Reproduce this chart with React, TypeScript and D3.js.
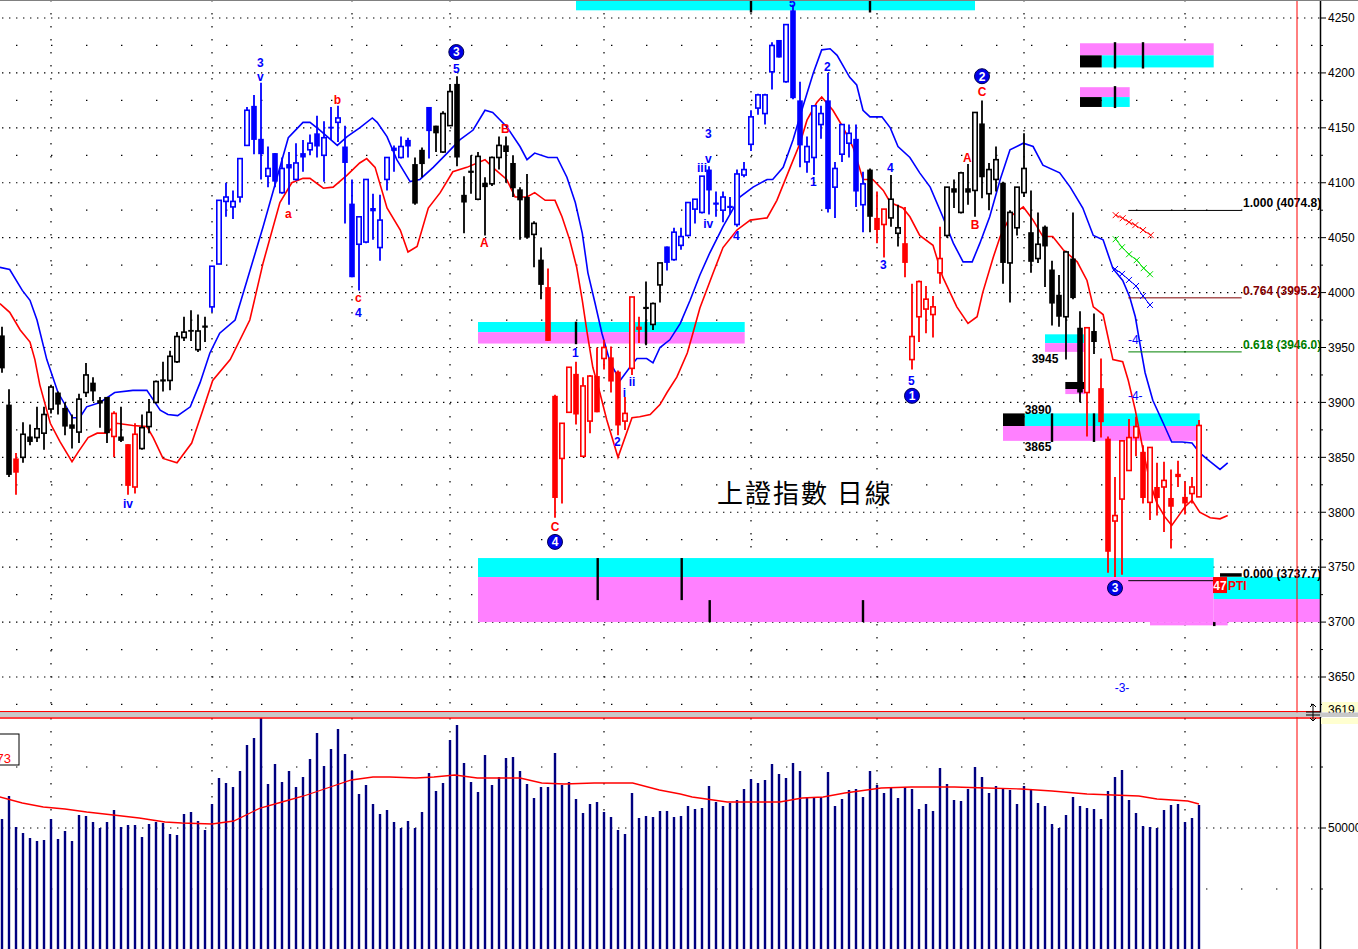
import * as d3 from "d3";

document.body.style.margin = "0";
document.body.style.overflow = "hidden";

// ---- daily bars (index 0 = first visible day) ----
const opens = [3961,3898,3849,3850,3869,3868,3872,3894,3909,3895,
3880,3873,3909,3918,3902,3905,3869,3869,3862,3823,
3858,3878,3900,3921,3920,3937,3959,3966,3948,3970,
3987,4026,4083,4078,4087,4134,4170,4140,4106,4127,
4091,4117,4103,4127,4130,4145,4125,4151,4155,4133,
4081,4044,4046,4077,4041,4103,4132,4123,4139,4117,
4130,4169,4152,4128,4152,4190,4089,4111,4085,4100,
4099,4123,4134,4118,4094,4087,4053,4030,4005,3906,
3849,3891,3926,3851,3883,3924,3940,3941,3928,3883,
3931,3969,3987,3971,4007,4042,4030,4043,4052,4076,
4073,4112,4082,4075,4079,4062,4107,4135,4168,4163,
4201,4230,4192,4257,4175,4119,4123,4153,4175,4096,
4126,4136,4140,4080,4112,4068,4062,4068,4054,4045,
3939,3978,3985,3980,4018,4052,4095,4073,4095,4093,
4154,4090,4103,4100,4027,4059,4091,4055,4031,4060,
4021,3998,3978,4031,3968,3909,3965,3913,3867,3792,
3812,3838,3868,3855,3809,3823,3823,3813,3835,3814,
3817,3814];

const highs = [3969,3912,3854,3882,3880,3896,3896,3916,3910,3900,
3889,3908,3936,3923,3905,3905,3892,3896,3862,3881,
3889,3903,3920,3937,3947,3964,3978,3984,3980,3978,
4024,4084,4100,4093,4122,4169,4180,4191,4133,4127,
4123,4128,4136,4139,4144,4161,4156,4169,4170,4152,
4103,4069,4103,4090,4089,4123,4134,4142,4141,4123,
4132,4169,4152,4165,4190,4197,4106,4125,4128,4105,
4124,4142,4142,4125,4096,4108,4065,4041,4022,3907,
3881,3932,3937,3923,3925,3950,3957,3951,3929,3905,
3996,3978,4010,3991,4027,4042,4059,4059,4082,4085,
4106,4115,4092,4092,4087,4112,4119,4166,4181,4181,
4228,4230,4244,4262,4192,4142,4170,4170,4200,4119,
4153,4153,4153,4110,4113,4092,4076,4107,4080,4078,
4008,4011,4006,3997,4060,4096,4103,4110,4117,4164,
4175,4118,4133,4101,4075,4096,4145,4093,4073,4061,
4029,4016,4038,4073,3983,3968,3981,3940,3869,3832,
3865,3885,3887,3861,3859,3845,3846,3839,3847,3828,
3832,3884];

const lows = [3927,3832,3816,3845,3861,3864,3857,3890,3889,3870,
3858,3863,3905,3901,3877,3863,3850,3864,3816,3817,
3857,3872,3899,3910,3911,3936,3956,3956,3946,3955,
3982,4026,4069,4067,4082,4134,4126,4103,4096,4096,
4090,4080,4102,4110,4125,4123,4101,4139,4137,4063,
4014,4002,4045,4048,4029,4093,4110,4122,4123,4080,
4105,4122,4128,4127,4152,4115,4054,4090,4084,4052,
4097,4112,4100,4087,4048,4049,4023,3994,3956,3795,
3808,3891,3880,3850,3872,3891,3930,3909,3870,3875,
3925,3954,3952,3966,3991,4020,4029,4039,4051,4063,
4072,4071,4069,4064,4071,4060,4105,4129,4162,4153,
4185,4214,4191,4176,4114,4109,4107,4140,4073,4068,
4119,4123,4078,4055,4055,4045,4032,4060,4042,4014,
3930,3955,3963,3959,4008,4050,4077,4072,4080,4069,
4086,4075,4092,4008,3991,4052,4087,4018,4027,4005,
3970,3969,3939,3994,3900,3869,3944,3868,3745,3741,
3743,3838,3851,3808,3793,3797,3782,3767,3823,3798,
3808,3814];

const closes = [3931,3834,3836,3871,3864,3876,3889,3914,3898,3878,
3876,3903,3925,3910,3899,3872,3890,3865,3824,3871,
3877,3891,3919,3919,3942,3960,3964,3965,3965,3968,
4024,4084,4087,4083,4122,4166,4139,4126,4113,4101,
4113,4113,4118,4123,4136,4133,4141,4150,4159,4118,
4014,4069,4103,4074,4066,4123,4129,4133,4133,4081,
4117,4147,4145,4163,4183,4123,4082,4109,4124,4096,
4123,4134,4128,4095,4084,4050,4063,4007,3956,3813,
3881,3932,3889,3915,3924,3891,3950,3919,3879,3890,
3996,3966,3985,3990,4027,4027,4055,4051,4082,4085,
4106,4093,4080,4087,4077,4108,4112,4160,4180,4180,
4225,4214,4244,4177,4134,4133,4170,4163,4076,4113,
4153,4145,4092,4099,4069,4057,4076,4085,4059,4027,
3960,4010,3994,3987,4031,4096,4091,4109,4091,4164,
4105,4112,4121,4027,4073,4096,4113,4028,4044,4042,
3990,3978,4037,3995,3909,3968,3955,3882,3764,3797,
3865,3868,3878,3813,3859,3813,3829,3805,3832,3808,
3823,3879];

// wave marking of each bar: k = plain, b = impulse (blue), r = correction (red)
const waveMark =
  "kkrkkkkkkk" + "kkkkkkrkrr" + "kkkkkkkkkk" + "bbbbbbbbbb" + "bbbbbbbbbb" +
  "bbbbbbbbbk" + "kbkkkkkkkk" + "kkkkkkkkrr" + "rrrrrrrrrr" + "rrkkkbbbbb" +
  "bbbbbbbbbb" + "bbbbbbbbbb" + "bbbbkrrkkr" + "rrrrrkkkkk" + "kkkkkkkkkk" +
  "kkkkkrkrrr" + "rrrrrrrrrr" + "rr";

const volumes = [50900,53200,50100,49500,49000,48700,48800,50900,48900,49700,
48700,51300,51200,50600,50000,50600,51800,50100,50300,50300,
49100,50400,50600,50500,49400,49300,51400,51600,50700,49800,
52400,55000,54500,54100,55700,58300,59000,61000,54400,56400,
54600,55700,54100,55100,56900,59500,56200,57900,59900,57400,
55700,53400,54300,52400,51400,51800,50600,50000,50700,50000,
51600,55500,53700,54500,58800,60300,56500,54600,53600,57300,
54300,55100,57000,57100,55700,54400,53000,54100,54100,57500,
54300,54600,52900,51500,52400,52600,51600,51100,49800,49400,
53500,51000,51200,51100,51700,51700,51100,51200,52200,51900,
52000,54200,52600,52200,52500,52800,53900,54900,54500,54800,
56400,55400,55000,56500,55700,53100,53000,53100,55600,52200,
52900,53800,53900,53100,55700,54300,53500,54100,53000,54100,
53900,51900,52400,51700,56000,54400,52800,52700,53900,56100,
55100,53500,54200,53900,53800,52400,54200,53800,52500,52200,
50400,50000,51300,53100,52200,52000,51900,50900,53700,55100,
55800,52800,51500,50200,50100,50000,51800,52300,52400,50600,
51000,52300];

// [bar, price]
const upperAvg = [[-0.3,4023],[1.1,4021],[2.9,4002],[4,3993],[5,3975],[6.4,3939],[8,3909],[10.1,3886],[11.1,3886],[12.1,3896],[14,3900],[16.1,3909],[18.7,3911],[20.7,3911],[22.6,3893],[23.7,3889],[25.1,3888],[26.9,3896],[28.3,3918],[29.7,3945],[31.1,3963],[33.3,3975],[35,4011],[37.3,4060],[39.3,4105],[40.9,4141],[43,4155],[44,4155],[45.4,4148],[47.9,4134],[49.3,4142],[51.1,4150],[52.9,4159],[53.6,4155],[55,4142],[56.4,4121],[58.3,4101],[59.7,4103],[61.6,4114],[63.6,4127],[65.4,4139],[67.3,4148],[69,4166],[70.1,4164],[72.1,4151],[74,4133],[75,4121],[76.1,4127],[78,4123],[79.3,4123],[80.7,4105],[81.9,4082],[82.9,4054],[83.7,4018],[84.7,3991],[85.7,3963],[86.9,3936],[88.3,3920],[89.7,3932],[90.7,3940],[92.1,3940],[93,3936],[94,3950],[95.4,3957],[96.9,3972],[98.3,3993],[99.7,4016],[101.1,4036],[103,4060],[105.4,4087],[107.3,4096],[109.3,4103],[110.1,4103],[111.6,4114],[113,4139],[114.4,4169],[115.9,4200],[117.1,4221],[118.3,4222],[119.3,4216],[121.1,4196],[122.1,4189],[123,4166],[124,4160],[125.7,4160],[126.9,4150],[128,4133],[129.7,4123],[131.1,4109],[132.6,4096],[134.4,4069],[135.9,4045],[137.3,4028],[138.6,4028],[139.7,4045],[141.1,4069],[142.6,4103],[144,4130],[145.9,4136],[147.3,4133],[148.7,4116],[151.1,4109],[152.6,4096],[154.4,4077],[155.9,4052],[157.3,4048],[158.7,4022],[160.1,4011],[161.1,3996],[161.9,3978],[162.6,3952],[163.3,3927],[164.4,3902],[165.9,3881],[167.1,3864],[168.6,3864],[170,3863],[171.1,3854],[172.6,3846],[174,3839],[175.1,3845]];

const lowerAvg = [[-0.3,3990],[1.1,3982],[2.6,3966],[4,3955],[4.7,3939],[5.4,3916],[6.9,3881],[8.3,3864],[10,3846],[10.9,3855],[12.3,3868],[13.6,3872],[15,3872],[16.4,3881],[18.7,3879],[20.7,3878],[21.6,3868],[23,3849],[25,3845],[27.1,3863],[28.7,3893],[30.1,3920],[32.6,3939],[35.4,3975],[37.3,4027],[39.7,4082],[41.4,4100],[43,4104],[44,4104],[45.9,4095],[47.3,4096],[49.3,4107],[51.1,4118],[52.1,4122],[53.3,4114],[55,4077],[56.9,4057],[58,4037],[59.3,4042],[60.9,4077],[62.6,4091],[64.4,4110],[66.4,4114],[69,4121],[70.1,4114],[72.1,4103],[73.3,4087],[75,4087],[76.1,4091],[77.6,4084],[79,4084],[80,4069],[81.1,4048],[82.1,4023],[82.9,3993],[83.6,3963],[84.4,3932],[85.4,3909],[86.4,3884],[88,3850],[90,3886],[91.1,3887],[92.6,3889],[94,3898],[95,3909],[96.4,3923],[97.9,3945],[98.7,3963],[99.7,3986],[101.6,4018],[103,4041],[105,4057],[106.9,4066],[109.3,4068],[110.7,4084],[112.6,4114],[114,4136],[115,4157],[116.4,4173],[117.1,4178],[118.7,4166],[120.1,4151],[121.6,4132],[123,4103],[124.4,4103],[125.9,4093],[126.9,4082],[128.7,4077],[129.7,4069],[131.1,4052],[133,4043],[134.4,4014],[136.4,3987],[138,3972],[139.3,3978],[140.1,4000],[141.6,4032],[142.6,4051],[144,4069],[145.9,4078],[147.3,4066],[148.7,4051],[150.1,4051],[151.6,4039],[153.6,4028],[155,4011],[155.9,3987],[157.3,3980],[158.7,3939],[160.1,3937],[160.9,3920],[161.9,3893],[163,3857],[164,3827],[165,3808],[166.1,3796],[167.1,3788],[168,3796],[169,3805],[170,3811],[171.1,3800],[172.6,3795],[174,3794],[175.1,3797]];

const volumeAvg = [[-0.3,53100],[2.9,52500],[5.9,52100],[9,51900],[12.1,51600],[15.9,51300],[19.6,51000],[23.3,50600],[25.7,50500],[30,50400],[33.1,50700],[36.9,52000],[40,52600],[43.1,53200],[46.9,54100],[49.9,54800],[53,55100],[55.4,55100],[59.1,55000],[61.7,55100],[64.7,55300],[67.9,55000],[71,55000],[74,55000],[77.1,54500],[80.3,54400],[84.6,54500],[90.1,54500],[93.9,53800],[96.9,53400],[98.6,53100],[103.6,52600],[108,52600],[111.1,52600],[114.3,53000],[117.3,53100],[120.4,53500],[125.6,54000],[129.9,54100],[136.1,54100],[140.6,54000],[145.6,53900],[150,53700],[155,53400],[162.4,53200],[165,52900],[169.4,52700],[171,52400]];

const priceMajor = [4250,4200,4150,4100,4050,4000,3950,3900,3850,3800,3750,3700,3650];
const priceMinor = [4225,4175,4125,4075,4025,3975,3925,3875,3825,3775,3725,3675,3625];
const monthBars = [7, 30, 50, 64, 86, 107, 125, 146, 169];
const volumeLabelTick = 50000;
const volumeMinorTicks = [56100, 43900];

// support / resistance zones: bars x0..x1, prices p0..p1
const zones = [
  { x0: 82, x1: 139, p0: 4268, p1: 4257, kind: "c" },
  { x0: 68, x1: 106.1, p0: 3973.2, p1: 3964, kind: "c" },
  { x0: 68, x1: 106.1, p0: 3964, p1: 3953.6, kind: "p" },
  { x0: 68, x1: 173.1, p0: 3758.3, p1: 3741, kind: "c" },
  { x0: 68, x1: 173.1, p0: 3741, p1: 3700, kind: "p" },
  { x0: 173.1, x1: 190, p0: 3741, p1: 3721, kind: "c" },
  { x0: 173.1, x1: 190, p0: 3721, p1: 3700, kind: "p" },
  { x0: 164, x1: 175.1, p0: 3700, p1: 3697, kind: "p" },
  { x0: 146.1, x1: 171.1, p0: 3890, p1: 3878.5, kind: "c" },
  { x0: 143, x1: 146.1, p0: 3890, p1: 3878.5, kind: "k" },
  { x0: 143, x1: 171.1, p0: 3878.5, p1: 3865, kind: "p" },
  { x0: 149, x1: 155.1, p0: 3962, p1: 3954, kind: "c" },
  { x0: 149, x1: 155.1, p0: 3954, p1: 3946, kind: "p" },
  { x0: 151.9, x1: 154.7, p0: 3918.6, p1: 3912.2, kind: "k" },
  { x0: 151.9, x1: 154.7, p0: 3912.2, p1: 3907.6, kind: "p" },
  { x0: 154, x1: 173.1, p0: 4227, p1: 4216, kind: "p" },
  { x0: 157.1, x1: 173.1, p0: 4216, p1: 4205, kind: "c" },
  { x0: 154, x1: 157.1, p0: 4216, p1: 4205, kind: "k" },
  { x0: 154, x1: 161.1, p0: 4187, p1: 4178, kind: "p" },
  { x0: 157.1, x1: 161.1, p0: 4178, p1: 4169, kind: "c" },
  { x0: 154, x1: 157.1, p0: 4178, p1: 4169, kind: "k" },
];
const zoneTicks = [
  { bar: 107, p0: 4268, p1: 4255 }, { bar: 124, p0: 4268, p1: 4255 },
  { bar: 82, p0: 3973.5, p1: 3953 }, { bar: 92, p0: 3973.5, p1: 3953 },
  { bar: 85.1, p0: 3758.3, p1: 3720 }, { bar: 97.1, p0: 3758.3, p1: 3720 },
  { bar: 101.1, p0: 3720, p1: 3700 }, { bar: 123, p0: 3720, p1: 3700 },
  { bar: 150, p0: 3890, p1: 3864 }, { bar: 156, p0: 3890, p1: 3864 },
  { bar: 159, p0: 4228, p1: 4204 }, { bar: 163, p0: 4228, p1: 4204 },
  { bar: 159, p0: 4188, p1: 4168 },
];

const fibLevels = [
  { ratio: "1.000", value: 4074.8, color: "#000000", end: 177.1 },
  { ratio: "0.764", value: 3995.2, color: "#800000", end: 177.1 },
  { ratio: "0.618", value: 3946.0, color: "#008000", end: 177.1 },
  { ratio: "0.000", value: 3737.7, color: "#000000", end: 173 },
];

const waveLabels = [
  { t: "3", bar: 36.9, p: 4209, c: "b" }, { t: "v", bar: 36.9, p: 4197, c: "b" },
  { t: "iv", bar: 18, p: 3808, c: "b" }, { t: "a", bar: 40.9, p: 4072, c: "r" },
  { t: "b", bar: 47.9, p: 4176, c: "r" }, { t: "c", bar: 50.9, p: 3995, c: "r" },
  { t: "4", bar: 50.9, p: 3982, c: "b" }, { t: "5", bar: 64.9, p: 4204, c: "b" },
  { t: "A", bar: 68.9, p: 4045, c: "r" }, { t: "B", bar: 71.9, p: 4149, c: "r" },
  { t: "1", bar: 81.9, p: 3945, c: "b" }, { t: "ii", bar: 90, p: 3919, c: "b" },
  { t: "i", bar: 88.9, p: 3909, c: "b" }, { t: "2", bar: 87.9, p: 3864, c: "b" },
  { t: "C", bar: 79, p: 3787, c: "r" }, { t: "3", bar: 100.9, p: 4145, c: "b" },
  { t: "iii", bar: 100, p: 4114, c: "b" }, { t: "v", bar: 100.9, p: 4122, c: "b" },
  { t: "iv", bar: 100.9, p: 4063, c: "b" }, { t: "4", bar: 104.9, p: 4052, c: "b" },
  { t: "5", bar: 112.9, p: 4264, c: "b" }, { t: "2", bar: 117.9, p: 4206, c: "b" },
  { t: "1", bar: 115.9, p: 4101, c: "b" }, { t: "4", bar: 126.9, p: 4114, c: "b" },
  { t: "3", bar: 125.9, p: 4025, c: "b" }, { t: "5", bar: 129.9, p: 3920, c: "b" },
  { t: "A", bar: 137.9, p: 4123, c: "r" }, { t: "B", bar: 139, p: 4062, c: "r" },
  { t: "C", bar: 140, p: 4183, c: "r" },
  { t: "-4-", bar: 161.9, p: 3957, c: "b" }, { t: "-4-", bar: 161.9, p: 3906, c: "b" },
  { t: "-3-", bar: 160, p: 3640, c: "b" },
];
const circleLabels = [
  { t: "3", bar: 64.9, p: 4219 }, { t: "4", bar: 79, p: 3773 },
  { t: "1", bar: 130, p: 3906 }, { t: "2", bar: 140, p: 4197 },
  { t: "3", bar: 159, p: 3731 },
];
const levelLabels = [
  { t: "3945", bar: 149, p: 3940 }, { t: "3890", bar: 148, p: 3893 }, { t: "3865", bar: 148, p: 3860 },
];
const crossRed = [[159.1,4070.5],[160.1,4067.7],[161,4064.1],[161.9,4061.4],[163,4056.9],[164.1,4052.3]];
const crossGreen = [[159.1,4048.6],[160,4041.3],[161,4034.9],[162.1,4029.5],[163.1,4022.2],[164,4016.7]];
const crossBlue = [[159,4021.5],[160,4017],[161,4011.5],[162,4006],[163,3996.9],[164,3988.7]];

const W = 1358;
const H = 949;
const AXIS_X = 1320;
const PRICE_BOTTOM = 711;
const VOL_TOP = 718;
const FONT = "'Liberation Sans', Arial, sans-serif";
const COLORS: Record<string, string> = { k: "#000000", b: "#0000ff", r: "#ff0000" };
const ZONE_FILL: Record<string, string> = { c: "#00ffff", p: "#ff80ff", k: "#000000" };

export default function App() {
  const x = d3.scaleLinear().domain([0, 171]).range([2, 1199]);
  const y = d3.scaleLinear().domain([3650, 4250]).range([677, 18]);
  const yv = d3.scaleLinear().domain([50000, 60000]).range([828, 728]);
  const priceLine = d3.line<number[]>().x(d => x(d[0])).y(d => y(d[1]));
  const volLine = d3.line<number[]>().x(d => x(d[0])).y(d => yv(d[1]));

  const crosses = (pts: number[][], color: string) => (
    <g stroke={color} strokeWidth={1} fill="none">
      <path d={priceLine(pts) || ""} />
      {pts.map((d, i) => (
        <path key={i} d={`M${x(d[0]) - 3},${y(d[1]) - 3}L${x(d[0]) + 3},${y(d[1]) + 3}M${x(d[0]) - 3},${y(d[1]) + 3}L${x(d[0]) + 3},${y(d[1]) - 3}`} />
      ))}
    </g>
  );

  return (
    <svg width={W} height={H} style={{ display: "block", background: "#fff" }} fontFamily={FONT}>
      <defs>
        <clipPath id="pricePanel"><rect x={0} y={0} width={AXIS_X} height={PRICE_BOTTOM} /></clipPath>
        <clipPath id="volPanel"><rect x={0} y={VOL_TOP} width={AXIS_X} height={H - VOL_TOP} /></clipPath>
      </defs>

      {/* ---------- price panel ---------- */}
      <g clipPath="url(#pricePanel)">
        {priceMajor.map(p => (
          <line key={p} x1={2} x2={AXIS_X} y1={y(p)} y2={y(p)} stroke="#000" strokeWidth={1.2} strokeDasharray="1.4,5.6" />
        ))}
        {priceMinor.map(p => (
          <line key={p} x1={16} x2={AXIS_X} y1={y(p)} y2={y(p)} stroke="#000" strokeWidth={1.2} strokeDasharray="1.4,33.6" />
        ))}
        {monthBars.map(b => (
          <line key={b} x1={x(b)} x2={x(b)} y1={0} y2={PRICE_BOTTOM} stroke="#000" strokeWidth={1.2} strokeDasharray="1.4,11.6" />
        ))}

        {zones.map((z, i) => (
          <rect key={i} x={x(z.x0)} width={x(z.x1) - x(z.x0)} y={y(z.p0)} height={y(z.p1) - y(z.p0)} fill={ZONE_FILL[z.kind]} />
        ))}
        {zoneTicks.map((t, i) => (
          <line key={i} x1={x(t.bar)} x2={x(t.bar)} y1={y(t.p0)} y2={y(t.p1)} stroke="#000" strokeWidth={2.4} />
        ))}

        <path d={priceLine(upperAvg) || ""} fill="none" stroke="#0000ff" strokeWidth={1.6} />
        <path d={priceLine(lowerAvg) || ""} fill="none" stroke="#ff0000" strokeWidth={1.6} />

        {opens.map((o, i) => {
          const c = closes[i];
          const col = COLORS[waveMark[i]];
          const cx = x(i);
          const up = c > o;
          const top = y(Math.max(o, c));
          const bot = y(Math.min(o, c));
          return (
            <g key={i}>
              <line x1={cx} x2={cx} y1={y(highs[i])} y2={y(lows[i])} stroke={col} strokeWidth={1.8} />
              {up ? (
                <rect x={cx - 2.2} width={4.4} y={top} height={Math.max(bot - top, 1)} fill="#fff" stroke={col} strokeWidth={1.6} />
              ) : (
                <rect x={cx - 2.8} width={5.6} y={top} height={Math.max(bot - top, 1.8)} fill={col} />
              )}
            </g>
          );
        })}

        {fibLevels.map(f => (
          <g key={f.ratio}>
            <line x1={x(160.9)} x2={x(f.end)} y1={y(f.value)} y2={y(f.value)} stroke={f.color} strokeWidth={1} />
            <text x={x(177.3)} y={y(f.value) - 3} fontSize={12} fontWeight="bold" fill={f.color}>
              {`${f.ratio} (${f.value.toFixed(1)})`}
            </text>
          </g>
        ))}
        <rect x={x(174)} y={y(3744.5)} width={x(177.1) - x(174)} height={3.5} fill="#000" />
        <rect x={x(173)} y={y(3700)} width={2.5} height={4} fill="#000" />
        <rect x={x(173)} y={y(3741)} width={14} height={16} fill="#ff0000" />
        <text x={x(173) + 7} y={y(3741) + 13} fontSize={12} fontWeight="bold" fill="#fff" textAnchor="middle">47</text>
        <text x={x(173) + 15} y={y(3741) + 13} fontSize={12} fontWeight="bold" fill="#ff0000">PTI</text>

        {crosses(crossRed, "#ff0000")}
        {crosses(crossGreen, "#00e000")}
        {crosses(crossBlue, "#0000ff")}

        {waveLabels.map((l, i) => (
          <text key={i} x={x(l.bar)} y={y(l.p)} dy="0.36em" textAnchor="middle" fontSize={12} fontWeight={l.t.startsWith("-") ? "normal" : "bold"} fill={COLORS[l.c]}>{l.t}</text>
        ))}
        {circleLabels.map((l, i) => (
          <g key={i}>
            <circle cx={x(l.bar)} cy={y(l.p)} r={7.5} fill="#0000e8" stroke="#000050" strokeWidth={1} />
            <text x={x(l.bar)} y={y(l.p)} dy="0.36em" textAnchor="middle" fontSize={12} fontWeight="bold" fill="#fff">{l.t}</text>
          </g>
        ))}
        {levelLabels.map((l, i) => (
          <text key={i} x={x(l.bar)} y={y(l.p)} dy="0.36em" textAnchor="middle" fontSize={12} fontWeight="bold" fill="#000">{l.t}</text>
        ))}

        <text x={717} y={503} fontSize={26} letterSpacing={2} fontFamily="'Noto Sans CJK TC', 'Noto Sans CJK SC', sans-serif" fill="#000">上證指數 日線</text>
      </g>

      {/* ---------- volume panel ---------- */}
      <g clipPath="url(#volPanel)">
        {monthBars.map(b => (
          <line key={b} x1={x(b)} x2={x(b)} y1={VOL_TOP} y2={H} stroke="#000" strokeWidth={1.2} strokeDasharray="1.4,11.6" />
        ))}
        <line x1={2} x2={AXIS_X} y1={yv(volumeLabelTick)} y2={yv(volumeLabelTick)} stroke="#000" strokeWidth={1.2} strokeDasharray="1.4,5.6" />
        {volumeMinorTicks.map(v => (
          <line key={v} x1={16} x2={AXIS_X} y1={yv(v)} y2={yv(v)} stroke="#000" strokeWidth={1.2} strokeDasharray="1.4,33.6" />
        ))}
        {volumes.map((v, i) => (
          <line key={i} x1={x(i)} x2={x(i)} y1={yv(v)} y2={H} stroke="#000080" strokeWidth={2.4} />
        ))}
        <path d={volLine(volumeAvg) || ""} fill="none" stroke="#ff0000" strokeWidth={1.3} />
        <rect x={-2} y={734} width={21} height={31} fill="#fff" stroke="#000" strokeWidth={1} />
        <text x={11} y={763} fontSize={13} fill="#ff0000" textAnchor="end">73</text>
      </g>

      {/* ---------- panel separator ---------- */}
      <rect x={0} y={712.5} width={W} height={4.5} fill="#c8c8c8" />
      <line x1={0} x2={W} y1={713} y2={713} stroke="#909090" strokeWidth={1} />
      <line x1={0} x2={AXIS_X} y1={711.5} y2={711.5} stroke="#ff0000" strokeWidth={1.2} />
      <line x1={0} x2={AXIS_X} y1={718} y2={718} stroke="#ff0000" strokeWidth={1.6} />

      {/* cursor line */}
      <line x1={1297} x2={1297} y1={0} y2={H} stroke="#ff0000" strokeWidth={1} />

      {/* ---------- right axis ---------- */}
      <rect x={AXIS_X} y={0} width={W - AXIS_X} height={H} fill="#fff" />
      <line x1={AXIS_X + 0.5} x2={AXIS_X + 0.5} y1={0} y2={H} stroke="#000" strokeWidth={1.5} />
      {priceMajor.map(p => (
        <g key={p}>
          <line x1={AXIS_X} x2={AXIS_X + 6} y1={y(p)} y2={y(p)} stroke="#000" strokeWidth={1} />
          <text x={AXIS_X + 8} y={y(p)} dy="0.36em" fontSize={12} fill="#000">{p}</text>
        </g>
      ))}
      {priceMinor.map(p => (
        <line key={p} x1={AXIS_X} x2={AXIS_X + 3} y1={y(p)} y2={y(p)} stroke="#000" strokeWidth={1} />
      ))}
      <rect x={AXIS_X + 2} y={702} width={W - AXIS_X - 2} height={10} fill="#ffffd0" />
      <text x={AXIS_X + 8} y={714} fontSize={12} fill="#000">3619</text>
      <rect x={AXIS_X + 1} y={VOL_TOP} width={W - AXIS_X - 1} height={6} fill="#ffffd0" />
      <text x={AXIS_X + 1} y={727} fontSize={12} fill="#000" clipPath="url(#volPanel)">323962</text>
      <rect x={0} y={712.5} width={W} height={4.5} fill="#c8c8c8" />
      <line x1={AXIS_X} x2={AXIS_X + 6} y1={yv(volumeLabelTick)} y2={yv(volumeLabelTick)} stroke="#000" strokeWidth={1} />
      <text x={AXIS_X + 8} y={yv(volumeLabelTick)} dy="0.36em" fontSize={12} fill="#000">500000</text>
      {volumeMinorTicks.map(v => (
        <line key={v} x1={AXIS_X} x2={AXIS_X + 3} y1={yv(v)} y2={yv(v)} stroke="#000" strokeWidth={1} />
      ))}
      <path d="M1313,704 L1313,721 M1310,707 L1313,704 L1316,707 M1310,718 L1313,721 L1316,718 M1306,712 L1320,712 M1306,715 L1320,715" stroke="#000" strokeWidth={1} fill="none" />
      <line x1={0} x2={W} y1={0.5} y2={0.5} stroke="#808080" strokeWidth={1} />
    </svg>
  );
}
